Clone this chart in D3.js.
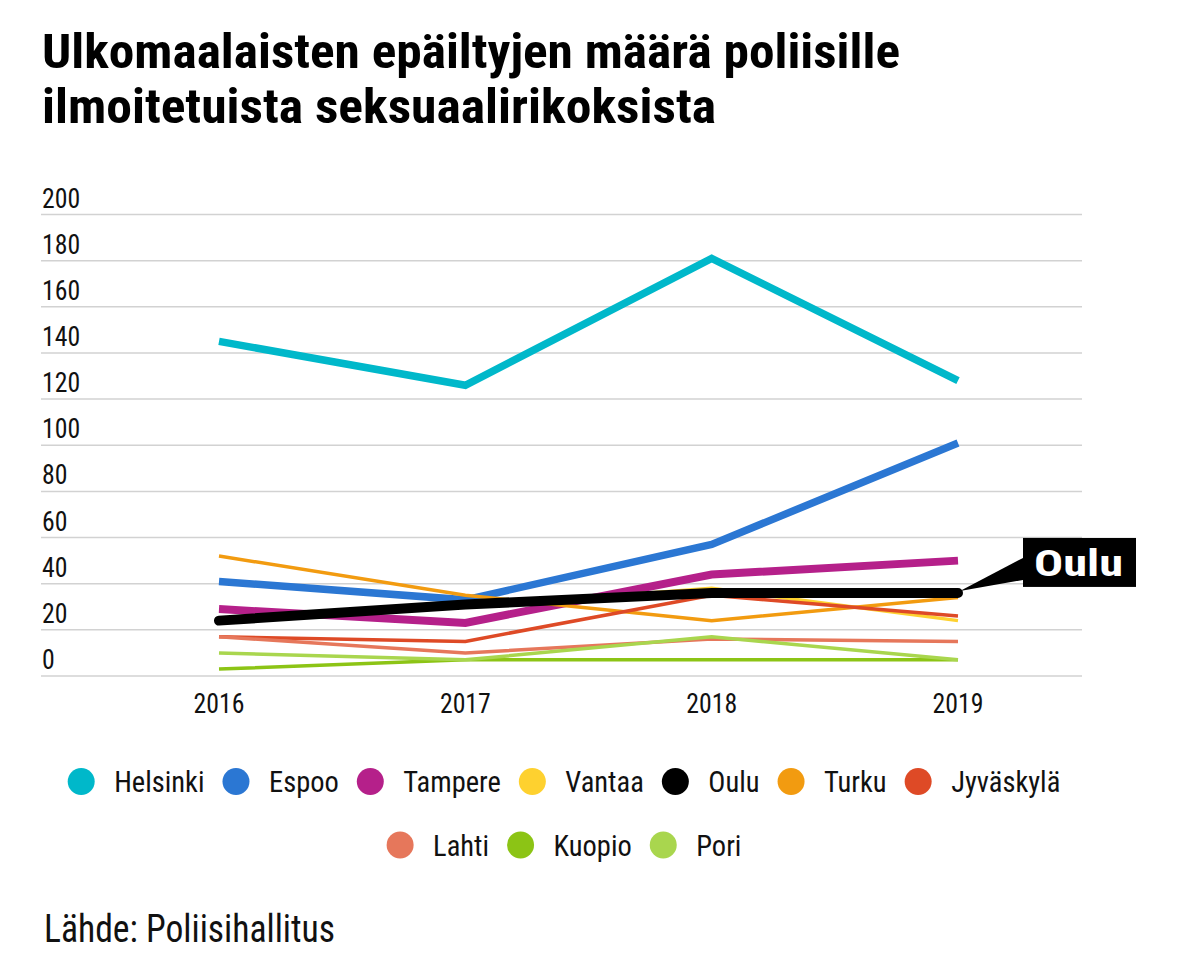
<!DOCTYPE html>
<html>
<head>
<meta charset="utf-8">
<script src="https://cdn.jsdelivr.net/npm/d3@7"></script>
<style>
  body { margin: 0; background: #fff; }
  text { font-family: "Roboto Condensed", Roboto, sans-serif; }
</style>
</head>
<body>
<div id="chart"></div>
<script>
// data
const years = ["2016", "2017", "2018", "2019"];
const cities = ["Helsinki", "Espoo", "Tampere", "Vantaa", "Oulu", "Turku", "Jyväskylä", "Lahti", "Kuopio", "Pori"];
const helsinki = [145, 126, 181, 128];
const espoo = [41, 33, 57, 101];
const tampere = [29, 23, 44, 50];
const vantaa = [24, 30, 38, 24];
const oulu = [24, 31, 36, 36];
const turku = [52, 35, 24, 34];
const jyvaskyla = [17, 15, 35, 26];
const lahti = [17, 10, 16, 15];
const kuopio = [3, 7, 7, 7];
const pori = [10, 7, 17, 7];
const yTicks = [0, 20, 40, 60, 80, 100, 120, 140, 160, 180, 200];
const titleLines = ["Ulkomaalaisten epäiltyjen määrä poliisille", "ilmoitetuista seksuaalirikoksista"];
const source = "Lähde: Poliisihallitus";

const colors = ["#00b8ca", "#2b77d3", "#b5208a", "#fed12f", "#000000", "#f29b10", "#de4a26", "#e6775b", "#8cc415", "#a9d64e"];
const series = [helsinki, espoo, tampere, vantaa, oulu, turku, jyvaskyla, lahti, kuopio, pori];
const thick = {Helsinki: 7.5, Espoo: 7.5, Tampere: 8, Oulu: 10};

const width = 1200, height = 960;
const cond = 0.95;   // legend text squeeze
const numCond = 0.92; // axis numbers squeeze

const svg = d3.select("#chart").append("svg")
    .attr("width", width)
    .attr("height", height);

// title
svg.append("g").selectAll("text")
  .data(titleLines)
  .enter().append("text")
    .attr("x", 42)
    .attr("y", (d, i) => 68 + i * 55)
    .attr("font-size", 49)
    .attr("font-weight", 700)
    .attr("fill", "#000")
    .attr("textLength", (d, i) => i == 0 ? 858 : 674)
    .attr("lengthAdjust", "spacingAndGlyphs")
    .text(d => d);

const x = d3.scalePoint().domain(years).range([219, 958]);
const y = d3.scaleLinear().domain([0, 200]).range([676, 214.5]);

// grid + y labels
const grid = svg.append("g");
grid.selectAll("line")
  .data(yTicks)
  .enter().append("line")
    .attr("x1", 41).attr("x2", 1082)
    .attr("y1", d => y(d)).attr("y2", d => y(d))
    .attr("stroke", "#d2d2d2")
    .attr("stroke-width", 1.5);
grid.selectAll("text")
  .data(yTicks)
  .enter().append("text")
    .attr("transform", d => `translate(42,${y(d) - 7}) scale(${numCond},1)`)
    .attr("font-size", 28)
    .attr("fill", "#111")
    .text(d => d);

// x labels
svg.append("g").selectAll("text")
  .data(years)
  .enter().append("text")
    .attr("transform", d => `translate(${x(d)},713) scale(${numCond},1)`)
    .attr("text-anchor", "middle")
    .attr("font-size", 28)
    .attr("fill", "#111")
    .text(d => d);

const line = d3.line()
    .x((d, i) => x(years[i]))
    .y(d => y(d));

// draw order: legend order, Oulu last on top
const order = cities.map((c, i) => i).filter(i => cities[i] != "Oulu");
order.push(cities.indexOf("Oulu"));

svg.append("g").selectAll("path")
  .data(order)
  .enter().append("path")
    .attr("d", i => line(series[i]))
    .attr("fill", "none")
    .attr("stroke", i => colors[i])
    .attr("stroke-width", i => thick[cities[i]] || 3.5)
    .attr("stroke-linecap", i => cities[i] == "Oulu" ? "round" : "butt")
    .attr("stroke-linejoin", "miter");

// Oulu callout
const ox = x(years[3]), oy = y(oulu[3]);
const bx = ox + 65, by = oy - 55;
svg.append("path")
    .attr("d", `M${ox + 2},${oy - 2}L${bx},${by + 20}L${bx},${by + 42}Z`)
    .attr("fill", "#000");
svg.append("rect")
    .attr("x", bx).attr("y", by)
    .attr("width", 113).attr("height", 49)
    .attr("fill", "#000");
svg.append("text")
    .attr("x", bx + 11)
    .attr("y", by + 38)
    .attr("font-size", 37)
    .attr("font-weight", 700)
    .attr("fill", "#fff")
    .attr("textLength", 89)
    .attr("lengthAdjust", "spacingAndGlyphs")
    .text("Oulu");

// legend, two centred rows
const rows = [cities.slice(0, 7), cities.slice(7)];
const r = 13.5, gapText = 33 - r, gapAfter = 18;
const leg = svg.append("g");
rows.forEach((row, ri) => {
  const cy = 781.5 + ri * 63.5;
  const g = leg.append("g");
  let cx = 0;
  row.forEach(name => {
    const ci = cities.indexOf(name);
    g.append("circle")
        .attr("cx", cx + r).attr("cy", cy).attr("r", r)
        .attr("fill", colors[ci]);
    const t = g.append("text")
        .attr("transform", `translate(${cx + 2 * r + gapText},${cy + 10.5}) scale(${cond},1)`)
        .attr("font-size", 30)
        .attr("fill", "#111")
        .text(name);
    const w = t.node().getComputedTextLength() * cond;
    cx += 2 * r + gapText + w + gapAfter;
  });
  const total = cx - gapAfter;
  g.attr("transform", `translate(${564 - total / 2},0)`);
});

// source
svg.append("text")
    .attr("x", 44)
    .attr("y", 942)
    .attr("font-size", 39)
    .attr("fill", "#111")
    .attr("textLength", 291)
    .attr("lengthAdjust", "spacingAndGlyphs")
    .text(source);
</script>
</body>
</html>
